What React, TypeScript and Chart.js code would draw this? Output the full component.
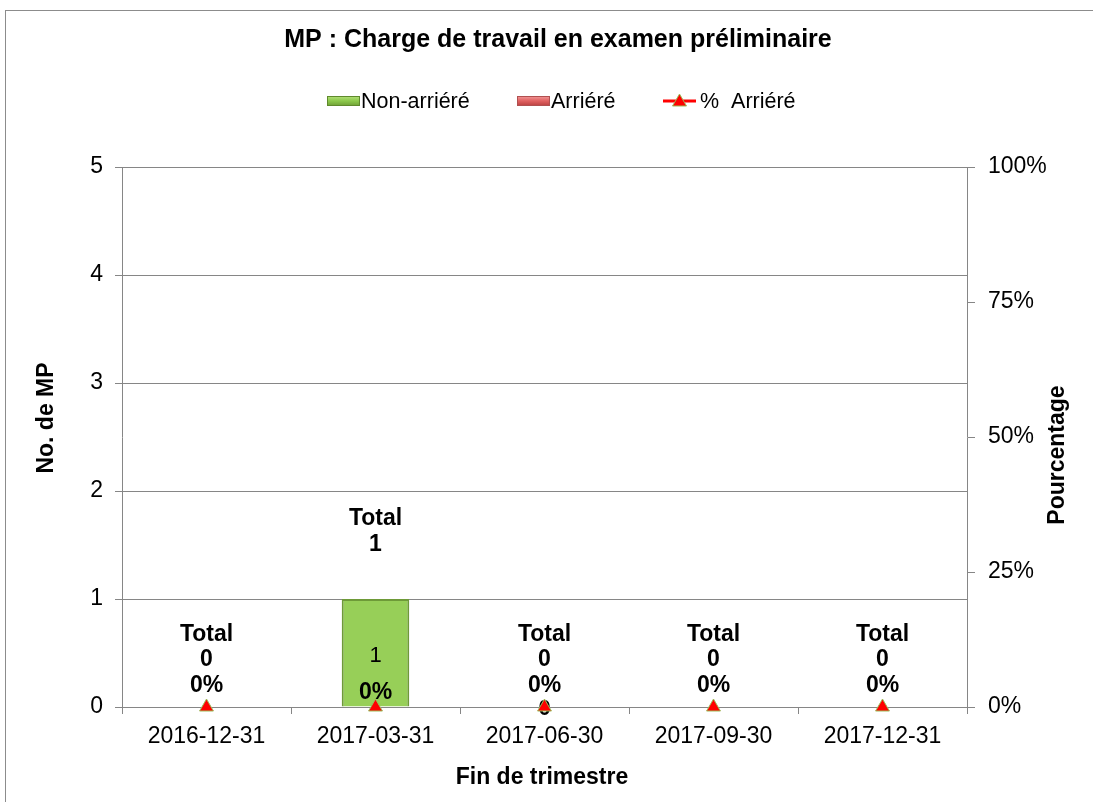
import React, { useEffect, useRef } from "react";
import { Chart, registerables } from "chart.js";

Chart.register(...registerables);

const categories = ["2016-12-31", "2017-03-31", "2017-06-30", "2017-09-30", "2017-12-31"];
const nonArrieres: (number | null)[] = [0, 1, 0, 0, 0];
const arrieres: (number | null)[] = [null, null, 0, null, null];
const pctArrieres: number[] = [0, 0, 0, 0, 0];
const leftTicks = [0, 1, 2, 3, 4, 5];
const rightTicks = ["0%", "25%", "50%", "75%", "100%"];

const TITLE = "MP : Charge de travail en examen préliminaire";
const FONT = '"Liberation Sans", Arial, sans-serif';
const GRID = "#868686";

const labelsPlugin = {
  id: "customLabels",
  beforeDraw(chart: any) {
    const ctx = chart.ctx;
    ctx.save();
    ctx.fillStyle = "#ffffff";
    ctx.fillRect(0, 0, chart.width, chart.height);
    ctx.strokeStyle = "#8c8c8c";
    ctx.lineWidth = 1;
    ctx.strokeRect(5.5, 10.5, 1300, 1000);
    ctx.restore();
  },
  beforeDatasetsDraw(chart: any) {
    const ctx = chart.ctx;
    const x = chart.scales.x;
    const y = chart.scales.y;
    ctx.save();
    ctx.fillStyle = "#000";
    ctx.textAlign = "center";
    ctx.textBaseline = "middle";
    ctx.font = `bold 22px ${FONT}`;
    arrieres.forEach((v, i) => {
      if (v === null) return;
      ctx.fillText(String(v), x.getPixelForValue(i), y.getPixelForValue(0) + 2);
    });
    ctx.restore();
  },
  afterDatasetsDraw(chart: any) {
    const ctx = chart.ctx;
    const x = chart.scales.x;
    const y = chart.scales.y;
    const y0 = y.getPixelForValue(0);
    ctx.save();
    ctx.fillStyle = "#000";
    ctx.textAlign = "center";
    ctx.textBaseline = "middle";
    categories.forEach((_, i) => {
      const cx = x.getPixelForValue(i);
      const na = nonArrieres[i] ?? 0;
      const ar = arrieres[i] ?? 0;
      const total = na + ar;
      const pctText = Math.round(pctArrieres[i] * 100) + "%";
      ctx.font = `bold 23px ${FONT}`;
      if (total > 0) {
        const top = y.getPixelForValue(total);
        ctx.fillText("Total", cx, top - 80);
        ctx.fillText(String(total), cx, top - 54);
        ctx.fillText(pctText, cx, y0 - 14);
        ctx.font = `22px ${FONT}`;
        if (na > 0) ctx.fillText(String(na), cx, (y.getPixelForValue(na) + y0) / 2 + 3);
      } else {
        ctx.fillText("Total", cx, y0 - 72);
        ctx.fillText(String(total), cx, y0 - 47);
        ctx.fillText(pctText, cx, y0 - 21);
      }
    });
    ctx.restore();
  },
  afterDraw(chart: any) {
    const ctx = chart.ctx;
    const area = chart.chartArea;
    ctx.save();
    ctx.fillStyle = "#000";
    ctx.textAlign = "center";
    ctx.textBaseline = "middle";
    // title
    ctx.font = `bold 25px ${FONT}`;
    ctx.fillText(TITLE, 558, 40);
    // axis titles
    ctx.font = `bold 23px ${FONT}`;
    ctx.fillText("Fin de trimestre", 542, 778);
    ctx.save();
    ctx.translate(47, 418);
    ctx.rotate(-Math.PI / 2);
    ctx.fillText("No. de MP", 0, 0);
    ctx.restore();
    ctx.save();
    ctx.translate(1058, 455);
    ctx.rotate(-Math.PI / 2);
    ctx.fillText("Pourcentage", 0, 0);
    ctx.restore();
    // legend
    const ly = 101;
    ctx.font = `21.5px ${FONT}`;
    ctx.textAlign = "left";
    // green
    const g = ctx.createLinearGradient(0, ly - 5, 0, ly + 5);
    g.addColorStop(0, "#B5E07A");
    g.addColorStop(0.5, "#8CC84B");
    g.addColorStop(1, "#6E9E35");
    ctx.fillStyle = g;
    ctx.fillRect(327, ly - 5, 33, 10);
    ctx.strokeStyle = "#5F8A2C";
    ctx.lineWidth = 1;
    ctx.strokeRect(327.5, ly - 4.5, 32, 9);
    ctx.fillStyle = "#000";
    ctx.fillText("Non-arriéré", 361, ly + 1);
    // red
    const r = ctx.createLinearGradient(0, ly - 5, 0, ly + 5);
    r.addColorStop(0, "#F29A9A");
    r.addColorStop(0.5, "#E06060");
    r.addColorStop(1, "#B84040");
    ctx.fillStyle = r;
    ctx.fillRect(517, ly - 5, 33, 10);
    ctx.strokeStyle = "#B05050";
    ctx.strokeRect(517.5, ly - 4.5, 32, 9);
    ctx.fillStyle = "#000";
    ctx.fillText("Arriéré", 551, ly + 1);
    // line
    ctx.strokeStyle = "#FF0000";
    ctx.lineWidth = 3;
    ctx.beginPath();
    ctx.moveTo(663, ly);
    ctx.lineTo(696, ly);
    ctx.stroke();
    ctx.fillStyle = "#FF0000";
    ctx.strokeStyle = "#9BBB59";
    ctx.lineWidth = 1;
    ctx.beginPath();
    ctx.moveTo(679.5, ly - 7);
    ctx.lineTo(686.5, ly + 5);
    ctx.lineTo(672.5, ly + 5);
    ctx.closePath();
    ctx.fill();
    ctx.stroke();
    ctx.fillStyle = "#000";
    ctx.fillText("%  Arriéré", 700, ly + 1);
    ctx.restore();
  },
};

export default function App() {
  const ref = useRef<HTMLCanvasElement | null>(null);
  useEffect(() => {
    if (!ref.current) return;
    const chart = new Chart(ref.current, {
      type: "bar",
      data: {
        labels: categories,
        datasets: [
          {
            type: "bar",
            label: "Non-arriéré",
            data: nonArrieres,
            backgroundColor: "#97CF58",
            borderColor: "#6E9A38",
            borderWidth: 2,
            yAxisID: "y",
            stack: "s",
            order: 2,
          },
          {
            type: "bar",
            label: "Arriéré",
            data: arrieres,
            backgroundColor: "#E06060",
            borderColor: "#B04040",
            borderWidth: 2,
            yAxisID: "y",
            stack: "s",
            order: 2,
          },
          {
            type: "line",
            label: "%  Arriéré",
            data: pctArrieres,
            yAxisID: "y1",
            showLine: false,
            borderColor: "#FF0000",
            backgroundColor: "#FF0000",
            pointStyle: "triangle",
            pointRadius: 8,
            pointBorderColor: "#9BBB59",
            pointBorderWidth: 1,
            pointBackgroundColor: "#FF0000",
            clip: false,
            order: 1,
          } as any,
        ],
      },
      options: {
        responsive: false,
        animation: false,
        events: [],
        layout: { padding: { top: 167, left: 0, right: 0, bottom: 0 } },
        datasets: { bar: { categoryPercentage: 1, barPercentage: 0.4 } },
        plugins: {
          legend: { display: false },
          title: { display: false },
          tooltip: { enabled: false },
        },
        scales: {
          x: {
            stacked: true,
            offset: true,
            grid: {
              offset: true,
              drawOnChartArea: false,
              drawTicks: true,
              tickLength: 7,
              color: GRID,
              tickColor: GRID,
            },
            border: { display: true, color: GRID, width: 1 },
            ticks: {
              color: "#000",
              font: { family: FONT, size: 23 },
              padding: 9,
              maxRotation: 0,
            },
            afterFit: (s: any) => {
              s.height = 95;
            },
          },
          y: {
            stacked: true,
            position: "left",
            min: 0,
            max: 5,
            afterBuildTicks: (s: any) => {
              s.ticks = leftTicks.map((v) => ({ value: v }));
            },
            grid: {
              color: GRID,
              tickColor: GRID,
              tickLength: 7,
              lineWidth: 1,
            },
            border: { display: true, color: GRID, width: 1 },
            ticks: {
              color: "#000",
              font: { family: FONT, size: 23 },
              padding: 12,
            },
            afterFit: (s: any) => {
              s.width = 122;
            },
          },
          y1: {
            position: "right",
            min: 0,
            max: 1,
            afterBuildTicks: (s: any) => {
              s.ticks = rightTicks.map((_, i) => ({ value: i * 0.25 }));
            },
            grid: {
              drawOnChartArea: false,
              color: GRID,
              tickColor: GRID,
              tickLength: 8,
            },
            border: { display: true, color: GRID, width: 1 },
            ticks: {
              color: "#000",
              font: { family: FONT, size: 23 },
              padding: 13,
              callback: (_v: any, i: number) => rightTicks[i],
            },
            afterFit: (s: any) => {
              s.width = 1093 - 967;
            },
          },
        },
      },
      plugins: [labelsPlugin],
    });
    return () => chart.destroy();
  }, []);
  return (
    <div style={{ position: "absolute", left: 0, top: 0, width: 1093, height: 802 }}>
      <canvas ref={ref} width={1093} height={802} style={{ display: "block" }} />
    </div>
  );
}
